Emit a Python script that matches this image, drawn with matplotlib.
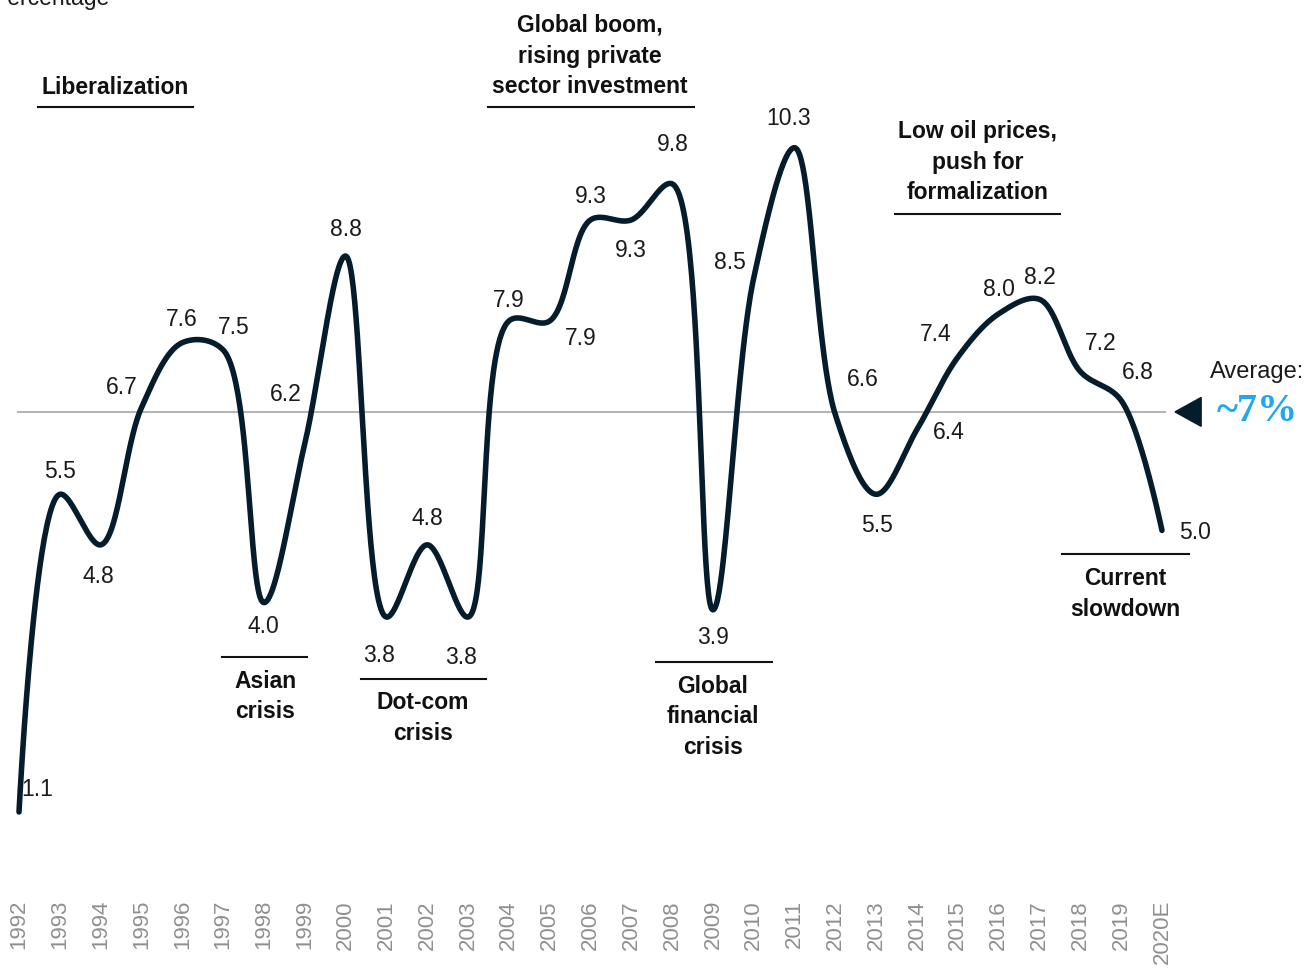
import numpy as np
import matplotlib.pyplot as plt
from matplotlib.patches import Polygon

years = ['1992', '1993', '1994', '1995', '1996', '1997', '1998', '1999', '2000',
         '2001', '2002', '2003', '2004', '2005', '2006', '2007', '2008', '2009',
         '2010', '2011', '2012', '2013', '2014', '2015', '2016', '2017', '2018',
         '2019', '2020E']
growth = [1.1, 5.5, 4.8, 6.7, 7.6, 7.5, 4.0, 6.2, 8.8, 3.8, 4.8, 3.8, 7.9, 7.9,
          9.3, 9.3, 9.8, 3.9, 8.5, 10.3, 6.6, 5.5, 6.4, 7.4, 8.0, 8.2, 7.2, 6.8, 5.0]
average = np.mean(growth)

# label offsets in pixels (dx, dy up)
offsets = [(18, 22), (0, 23), (-2, -32), (-20, 20), (-1, 23), (11, 22), (-1, -24),
           (-19, 49), (0, 27), (-7, -38), (0, 26), (-7, -40), (0, 21), (31, -17),
           (0, 23), (0, -31), (1, 39), (0, -28), (-24, 15), (-6, 29), (27, 35),
           (1, -31), (32, -3), (-22, 23), (0, 24), (0, 22), (20, 28), (17, 28), (33, -2)]

navy = '#051C2C'
font = 'Liberation Sans'

fig = plt.figure(figsize=(13.13, 9.69), dpi=100)
ax = fig.add_axes([0, 69 / 969, 1, 900 / 969])
ax.set_xlim(-0.4655, 31.70)
ax.set_ylim(-0.119, 12.346)
for s in ax.spines.values():
    s.set_visible(False)
ax.set_yticks([])

# smooth curve (centripetal Catmull-Rom, computed in display space)
x = np.arange(len(growth))
P = ax.transData.transform(np.column_stack([x, growth]))
t = np.linspace(0, 1, 50)[:, None]
segs = []
n = len(P)
for i in range(n - 1):
    p0 = P[i - 1] if i > 0 else P[i]
    p1, p2 = P[i], P[i + 1]
    p3 = P[i + 2] if i + 2 < n else P[i + 1]
    d01 = np.hypot(*(p1 - p0)) ** 0.5
    d12 = np.hypot(*(p2 - p1)) ** 0.5
    d23 = np.hypot(*(p3 - p2)) ** 0.5
    c1, c2 = p1.copy(), p2.copy()
    if d01 > 1e-9:
        a = 2 * d01**2 + 3 * d01 * d12 + d12**2
        nn = 3 * d01 * (d01 + d12)
        c1 = (p1 * a - p0 * d12**2 + p2 * d01**2) / nn
    if d23 > 1e-9:
        b = 2 * d23**2 + 3 * d23 * d12 + d12**2
        m = 3 * d23 * (d23 + d12)
        c2 = (p2 * b + p1 * d23**2 - p3 * d12**2) / m
    seg = ((1 - t)**3) * p1 + 3 * ((1 - t)**2) * t * c1 + 3 * (1 - t) * t**2 * c2 + t**3 * p2
    segs.append(seg)
curve = ax.transData.inverted().transform(np.vstack(segs))

ax.plot([-0.02, 28.07], [average, average], color='#b5b5b5', lw=1.5, zorder=1)
ax.plot(curve[:, 0], curve[:, 1], color=navy, lw=4, solid_capstyle='round', zorder=3)

for i, v in enumerate(growth):
    ax.annotate(f'{v:.1f}', (i, v), xytext=offsets[i], textcoords='offset pixels',
                ha='center', va='center', fontsize=16.5, family=font, color='#1a1a1a')

ax.set_xticks(x)
ax.set_xticklabels(years, rotation=90, fontsize=16, family=font, color='#8f8f8f')
ax.tick_params(axis='x', length=0, pad=0)

# event annotations: text, x center, y center, line y, line x range
events = [
    ('Liberalization', 2.35, 11.13, 10.86, (0.465, 4.263)),
    ('Global boom,\nrising private\nsector investment', 13.99, 11.57, 10.86, (11.49, 16.54)),
    ('Low oil prices,\npush for\nformalization', 23.49, 10.10, 9.38, (21.46, 25.50)),
    ('Asian\ncrisis', 6.03, 2.70, 3.25, (4.97, 7.06)),
    ('Dot-com\ncrisis', 9.90, 2.40, 2.94, (8.38, 11.44)),
    ('Global\nfinancial\ncrisis', 17.00, 2.42, 3.18, (15.61, 18.45)),
    ('Current\nslowdown', 27.09, 4.12, 4.67, (25.55, 28.66)),
]
for txt, tx, ty, ly, (l0, l1) in events:
    ax.text(tx, ty, txt, ha='center', va='center', fontsize=16.5, fontweight='bold',
            family=font, color='#111111', linespacing=1.42)
    ax.plot([l0, l1], [ly, ly], color='#111111', lw=1.5)

# average marker
ax.add_patch(Polygon([[28.32, average], [28.96, average + 0.2], [28.96, average - 0.2]],
                     closed=True, color=navy, clip_on=False))
ax.text(30.33, 7.19, 'Average:', ha='center', va='center', fontsize=17,
        family=font, color='#1a1a1a')
ax.text(30.33, average, '~7%', ha='center', va='center', fontsize=29,
        family='Liberation Serif', fontweight='bold', color='#1DA8F0')

fig.text(-8 / 1313, 1 - 5 / 969, 'Percentage', ha='left', va='baseline', fontsize=16.5,
         family=font, color='#1a1a1a')

fig.savefig('out.png', dpi=100)
